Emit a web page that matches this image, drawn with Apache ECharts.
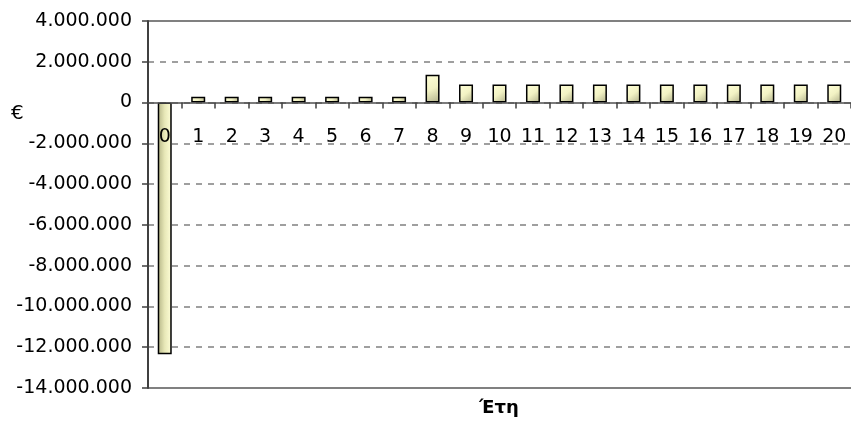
<!DOCTYPE html>
<html><head><meta charset="utf-8">
<script src="https://cdn.jsdelivr.net/npm/echarts@6/dist/echarts.min.js"></script>
<style>html,body{margin:0;padding:0;background:#fff}#c{width:851px;height:423px}</style>
</head><body><div id="c"></div>
<script>
const categories = ['0','1','2','3','4','5','6','7','8','9','10','11','12','13','14','15','16','17','18','19','20'];
const values = [-12350000, 290000, 290000, 290000, 290000, 290000, 290000, 290000, 1360000, 880000, 880000, 880000, 880000, 880000, 880000, 880000, 880000, 880000, 880000, 880000, 880000];
const yTicks = {min: -14000000, max: 4000000, interval: 2000000};
const yName = '€';
const xName = 'Έτη';

const FONT = 'DejaVu Sans';
const GRID = {left: 148, right: 0, top: 21, bottom: 35};
const plotH = 423 - GRID.top - GRID.bottom;
const zeroOffset = -(plotH * (0 - yTicks.min) / (yTicks.max - yTicks.min));
const posGrad = {type:'linear', x:0, y:0, x2:1, y2:1, colorStops:[{offset:0,color:'#ffffd8'},{offset:0.5,color:'#f2f2c4'},{offset:1,color:'#b0b08a'}]};
const negGrad = {type:'linear', x:0, y:0, x2:1, y2:0, colorStops:[{offset:0,color:'#b4b486'},{offset:0.5,color:'#e8e8b8'},{offset:1,color:'#ffffd8'}]};
function fmt(v){
  const neg = v < 0; let s = String(Math.abs(v));
  s = s.replace(/\B(?=(\d{3})+(?!\d))/g, '.');
  return (neg ? '-' : '') + s;
}
const chart = echarts.init(document.getElementById('c'), null, {renderer:'canvas'});
chart.setOption({
  animation: false,
  grid: Object.assign({containLabel: false, outerBoundsMode: 'none'}, GRID),
  xAxis: {
    type: 'category', data: categories, z: 3, position: 'bottom', offset: zeroOffset,
    axisLine: {onZero: false, lineStyle: {color: '#505050', width: 1.5}},
    axisTick: {show: true, alignWithLabel: false, length: 6, lineStyle: {color: '#404040', width: 1.5}},
    axisLabel: {color: '#000', fontFamily: FONT, fontSize: 19, margin: 25, interval: 0},
    splitLine: {show: false}
  },
  yAxis: [{
    type: 'value', min: yTicks.min, max: yTicks.max, interval: yTicks.interval,
    axisLine: {show: true, lineStyle: {color: '#404040', width: 2}},
    axisTick: {show: true, length: 6, lineStyle: {color: '#404040', width: 1.5}},
    axisLabel: {color: '#000', fontFamily: FONT, fontSize: 19, margin: 16, formatter: fmt},
    splitLine: {show: true, lineStyle: {color: '#808080', width: 1.5, type: [6, 6]}}
  }, {
    type: 'value', min: yTicks.min, max: yTicks.max, interval: yTicks.max - yTicks.min,
    show: true, position: 'left',
    axisLine: {show: false}, axisTick: {show: false}, axisLabel: {show: false},
    splitLine: {show: true, lineStyle: {color: '#808080', width: 2, type: 'solid'}}
  }],
  series: [{
    type: 'bar', yAxisIndex: 0, barWidth: 14,
    data: values.map(v => ({value: v, itemStyle: {color: v < 0 ? negGrad : posGrad}})),
    itemStyle: {borderColor: '#000', borderWidth: 1.5}
  }],
  graphic: [
    {type: 'text', left: 11, top: 104, style: {text: yName, font: '20px "DejaVu Sans"', fill: '#000'}},
    {type: 'text', x: 499, y: 399, style: {text: xName, font: 'bold 18px "DejaVu Sans"', fill: '#000', textAlign: 'center'}}
  ]
});
</script></body></html>
